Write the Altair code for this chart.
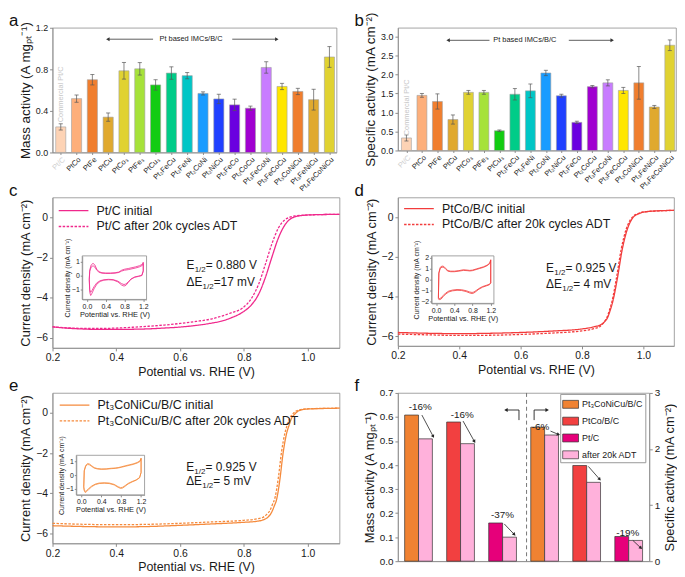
import altair as alt
import pandas as pd

FONT = "Liberation Sans"
AX = "#8c8c8c"
TXT = "#1a1a1a"

# ---------------- panels a & b data ----------------
catalysts = ["Pt/C", "PtCo", "PtFe", "PtCu", "PtCo₃", "PtFe₃", "PtCu₃",
             "Pt₂FeCu", "Pt₂FeNi", "Pt₂CoNi", "Pt₂NiCu", "Pt₂FeCo", "Pt₂CoCu",
             "Pt₃FeCoNi", "Pt₃FeCoCu", "Pt₃CoNiCu", "Pt₃FeNiCu", "Pt₄FeCoNiCu"]
bar_colors = ["#fdd3b5", "#fdaf7b", "#f07e2e", "#e0a92e", "#e0d232", "#a6e23a",
              "#12cc12", "#00cc88", "#00c6c6", "#1a9cff", "#2040ff", "#6a00e0",
              "#a000d0", "#c87cff", "#ffe600", "#f07e2e", "#e0a92e", "#e0d232"]
mass_act = [0.246, 0.518, 0.700, 0.340, 0.786, 0.805, 0.650, 0.764, 0.739,
            0.568, 0.515, 0.458, 0.426, 0.818, 0.635, 0.587, 0.508, 0.919]
mass_err = [0.03, 0.035, 0.05, 0.04, 0.08, 0.06, 0.05, 0.06, 0.03,
            0.015, 0.045, 0.055, 0.02, 0.055, 0.03, 0.03, 0.10, 0.10]
spec_act = [0.33, 1.45, 1.29, 0.815, 1.53, 1.53, 0.52, 1.48, 1.57,
            2.04, 1.44, 0.74, 1.68, 1.78, 1.58, 1.78, 1.145, 2.77]
spec_err = [0.08, 0.05, 0.20, 0.12, 0.05, 0.05, 0.02, 0.15, 0.18,
            0.07, 0.04, 0.03, 0.03, 0.08, 0.08, 0.43, 0.04, 0.14]

# ---------------- LSV curves (c, d, e) ----------------
c_init_x = [0.2, 0.25, 0.3, 0.35, 0.4, 0.45, 0.5, 0.55, 0.6, 0.65, 0.7, 0.731, 0.76, 0.794,
            0.825, 0.846, 0.867, 0.887, 0.908, 0.929, 0.95, 0.981, 1.02, 1.1]
c_init_y = [-5.45, -5.52, -5.56, -5.58, -5.58, -5.57, -5.55, -5.51, -5.46, -5.38, -5.26, -5.16,
            -5.0, -4.74, -4.33, -3.83, -3.01, -2.02, -1.03, -0.36, -0.03, 0.1, 0.14, 0.16]
c_after_x = [0.2, 0.25, 0.3, 0.35, 0.4, 0.45, 0.5, 0.55, 0.6, 0.65, 0.7, 0.731, 0.76, 0.794,
             0.825, 0.846, 0.867, 0.887, 0.908, 0.929, 0.96, 1.0, 1.1]
c_after_y = [-5.45, -5.5, -5.53, -5.53, -5.51, -5.47, -5.42, -5.36, -5.28, -5.18, -5.05, -4.91,
             -4.75, -4.53, -4.0, -3.34, -2.35, -1.35, -0.53, -0.11, 0.08, 0.13, 0.16]

d_init_x = [0.2, 0.3, 0.4, 0.5, 0.6, 0.7, 0.8, 0.84, 0.862, 0.875, 0.884, 0.892, 0.9, 0.915,
            0.931, 0.947, 0.957, 0.968, 0.985, 1.0, 1.04, 1.1]
d_init_y = [-5.82, -5.86, -5.88, -5.86, -5.82, -5.75, -5.64, -5.53, -5.42, -5.25, -5.05, -4.7,
            -4.28, -3.12, -1.64, -0.64, -0.25, 0.02, 0.18, 0.26, 0.32, 0.35]
d_after_x = [0.2, 0.3, 0.4, 0.5, 0.6, 0.7, 0.8, 0.84, 0.86, 0.872, 0.881, 0.889, 0.897, 0.912,
             0.928, 0.944, 0.955, 0.966, 0.985, 1.0, 1.1]
d_after_y = [-5.9, -5.94, -5.97, -5.96, -5.92, -5.85, -5.74, -5.62, -5.5, -5.3, -5.08, -4.72,
             -4.3, -3.1, -1.6, -0.6, -0.2, 0.04, 0.2, 0.27, 0.35]

e_init_x = [0.2, 0.3, 0.4, 0.5, 0.6, 0.7, 0.8, 0.84, 0.86, 0.875, 0.887, 0.895, 0.903, 0.913,
            0.923, 0.934, 0.942, 0.949, 0.96, 0.975, 1.0, 1.016, 1.1]
e_init_y = [-5.62, -5.66, -5.68, -5.66, -5.6, -5.53, -5.45, -5.4, -5.33, -5.2, -4.95, -4.65,
            -4.29, -3.31, -2.0, -1.02, -0.6, -0.28, -0.05, 0.13, 0.2, 0.21, 0.24]
e_after_x = [0.2, 0.3, 0.4, 0.5, 0.6, 0.7, 0.8, 0.84, 0.86, 0.87, 0.882, 0.89, 0.898, 0.908,
             0.918, 0.929, 0.937, 0.944, 0.955, 0.97, 1.0, 1.1]
e_after_y = [-5.5, -5.55, -5.57, -5.55, -5.5, -5.43, -5.35, -5.28, -5.2, -5.08, -4.85, -4.55,
             -4.2, -3.25, -1.95, -0.98, -0.55, -0.25, -0.02, 0.14, 0.21, 0.24]

# ---------------- CV insets ----------------
cv_x = [0.05, 0.06, 0.09, 0.13, 0.17, 0.21, 0.26, 0.32, 0.40, 0.50, 0.60, 0.68, 0.74, 0.80,
        0.88, 0.96, 1.04, 1.12, 1.18, 1.20, 1.20, 1.17, 1.10, 1.02, 0.94, 0.88, 0.83, 0.79,
        0.74, 0.66, 0.56, 0.46, 0.36, 0.28, 0.21, 0.15, 0.11, 0.08, 0.06, 0.05]
cv_c1_y = [-0.3, 0.4, 0.75, 0.87, 0.75, 0.45, 0.27, 0.2, 0.18, 0.18, 0.2, 0.25, 0.38, 0.45,
           0.5, 0.56, 0.62, 0.7, 0.8, 0.95, 0.35, 0.02, -0.04, -0.1, -0.25, -0.5, -0.7, -0.75,
           -0.68, -0.45, -0.32, -0.3, -0.33, -0.42, -0.62, -0.95, -1.25, -1.42, -1.2, -0.3]
cv_c2_y = [-0.25, 0.3, 0.6, 0.7, 0.6, 0.38, 0.23, 0.17, 0.15, 0.15, 0.17, 0.22, 0.32, 0.38,
           0.42, 0.48, 0.54, 0.62, 0.72, 0.85, 0.3, 0.0, -0.06, -0.12, -0.25, -0.45, -0.6, -0.64,
           -0.58, -0.4, -0.29, -0.27, -0.3, -0.37, -0.52, -0.8, -1.05, -1.2, -1.0, -0.25]
cv_d1_y = [-1.75, 0.6, 1.1, 1.22, 1.18, 1.0, 0.8, 0.75, 0.75, 0.8, 0.88, 0.85, 0.82, 0.85,
           0.95, 1.05, 1.15, 1.3, 1.5, 1.8, -0.35, -0.5, -0.6, -0.72, -0.9, -1.1, -1.25, -1.3,
           -1.25, -1.12, -1.02, -1.0, -1.05, -1.15, -1.35, -1.6, -1.8, -1.85, -1.85, -1.75]
cv_d2_y = [-1.65, 0.55, 1.0, 1.12, 1.1, 0.93, 0.75, 0.7, 0.7, 0.75, 0.82, 0.8, 0.77, 0.8,
           0.9, 1.0, 1.1, 1.25, 1.45, 1.75, -0.3, -0.45, -0.55, -0.66, -0.84, -1.02, -1.16, -1.2,
           -1.16, -1.04, -0.95, -0.93, -0.98, -1.07, -1.25, -1.5, -1.7, -1.75, -1.75, -1.65]
cv_e1_y = [-0.9, 0.35, 0.72, 0.85, 0.8, 0.68, 0.55, 0.48, 0.45, 0.46, 0.5, 0.52, 0.55, 0.6,
           0.68, 0.75, 0.82, 0.92, 1.05, 1.25, 0.2, -0.2, -0.38, -0.5, -0.65, -0.82, -0.95, -0.98,
           -0.9, -0.72, -0.62, -0.6, -0.62, -0.7, -0.85, -1.05, -1.2, -1.28, -1.15, -0.9]
cv_e2_y = [-0.85, 0.3, 0.65, 0.78, 0.74, 0.63, 0.51, 0.45, 0.42, 0.43, 0.47, 0.49, 0.52, 0.57,
           0.64, 0.71, 0.78, 0.88, 1.0, 1.2, 0.18, -0.18, -0.35, -0.47, -0.61, -0.77, -0.89, -0.92,
           -0.85, -0.68, -0.58, -0.56, -0.58, -0.66, -0.8, -0.98, -1.12, -1.2, -1.08, -0.85]

# ---------------- panel f ----------------
f_names = ["Pt₃CoNiCu/B/C", "PtCo/B/C", "Pt/C", "after 20k ADT"]
f_colors = ["#f08232", "#f24040", "#e6007a", "#ffb1db"]
f_mass_init = [0.608, 0.579, 0.159]
f_mass_after = [0.509, 0.489, 0.100]
f_spec_init = [2.39, 1.706, 0.44]
f_spec_after = [2.25, 1.406, 0.37]
f_mass_pct = ["-16%", "-16%", "-37%"]
f_spec_pct = ["-6%", "-18%", "-19%"]


def letter_mark(ch):
    return alt.Chart(pd.DataFrame({"t": [ch]})).mark_text(
        align="left", baseline="alphabetic", fontSize=17, color="#111"
    ).encode(x=alt.value(-44), y=alt.value(-2), text="t:N")


# ======================= bar panels =======================
def bar_panel(vals, errs, ydom, yticks, ytitle, xdom, arr_x, arr_y, comm_y, letter, W, H):
    n = len(catalysts)
    df = pd.DataFrame({"idx": list(range(n)), "v": vals, "e": errs, "col": bar_colors})
    df["lo"] = df.v - df.e
    df["hi"] = df.v + df.e
    df["x0"] = df.idx - 0.32
    df["x1"] = df.idx + 0.32
    df["c0"] = df.idx - 0.13
    df["c1"] = df.idx + 0.13
    df["z"] = 0.0
    names_js = "[" + ",".join("'%s'" % c for c in catalysts) + "]"
    xs = alt.Scale(domain=xdom, nice=False, zero=False)
    ys = alt.Scale(domain=ydom, nice=False, zero=False)
    xax = alt.Axis(values=list(range(n)), labelExpr=names_js + "[datum.value]",
                   labelAngle=315, labelAlign="right", labelBaseline="top",
                   labelFontSize=7.5, labelPadding=1, tickSize=2, title=None,
                   labelOverlap=False, labelFlush=False,
                   labelColor=alt.condition("datum.value == 0", alt.value("#cfcfcf"), alt.value(TXT)))
    yax = alt.Axis(values=yticks, format=".1f", labelFontSize=9, title=ytitle,
                   titleFontSize=13.5, titlePadding=3, tickSize=3)

    def X(f):
        return alt.X(f, type="quantitative", scale=xs, axis=xax)

    def Y(f):
        return alt.Y(f, type="quantitative", scale=ys, axis=yax)

    base = alt.Chart(df)
    bars = base.mark_bar(stroke="#a0a0a0", strokeWidth=0.6).encode(
        x=X("x0"), x2="x1", y=Y("v"), y2="z", color=alt.Color("col:N", scale=None))
    err = base.mark_rule(color="#555", strokeWidth=0.7).encode(x=X("idx"), y=Y("lo"), y2="hi")
    cap_hi = base.mark_rule(color="#555", strokeWidth=0.7).encode(x=X("c0"), x2="c1", y=Y("hi"))
    cap_lo = base.mark_rule(color="#555", strokeWidth=0.7).encode(x=X("c0"), x2="c1", y=Y("lo"))

    arr = pd.DataFrame({"x0": [arr_x[0], arr_x[3]], "x1": [arr_x[1], arr_x[4]], "y": [arr_y, arr_y]})
    arr_r = alt.Chart(arr).mark_rule(color="#333", strokeWidth=0.8).encode(x=X("x0"), x2="x1", y=Y("y"))
    heads = pd.DataFrame({"x": [arr_x[0], arr_x[4]], "y": [arr_y, arr_y],
                          "s": ["triangle-left", "triangle-right"]})
    head_m = alt.Chart(heads).mark_point(filled=True, size=16, color="#333", opacity=1).encode(
        x=X("x"), y=Y("y"), shape=alt.Shape("s:N", scale=None))
    lab = alt.Chart(pd.DataFrame({"x": [arr_x[2]], "y": [arr_y], "t": ["Pt based IMCs/B/C"]})).mark_text(
        fontSize=7.5, color=TXT, baseline="middle").encode(x=X("x"), y=Y("y"), text="t:N")
    comm = alt.Chart(pd.DataFrame({"x": [0.03], "y": [comm_y], "t": ["Commercial Pt/C"]})).mark_text(
        angle=270, align="left", baseline="middle", fontSize=7.5, color="#c8c8c8").encode(
        x=X("x"), y=Y("y"), text="t:N")
    return alt.layer(bars, err, cap_hi, cap_lo, arr_r, head_m, lab, comm,
                     letter_mark(letter)).properties(width=W, height=H)


# ======================= LSV panels =======================
def text_run(x, y, parts):
    layers = []
    for t, dx, dy, fs in parts:
        layers.append(alt.Chart(pd.DataFrame({"x": [x], "y": [y], "t": [t]})).mark_text(
            align="left", baseline="alphabetic", fontSize=fs, dx=dx, dy=dy, color=TXT))
    return layers


def lsv_panel(curves, names, color, cv_loops, box, cv_ydom, cv_yticks,
              e_val, de_val, epos, letter, W, H, legxy):
    rows = []
    for name, (xs_, ys_) in zip(names, curves):
        for i, (x, y) in enumerate(zip(xs_, ys_)):
            rows.append({"s": name, "i": i, "x": x, "y": y})
    df = pd.DataFrame(rows)
    xs = alt.Scale(domain=[0.2, 1.1], nice=False, zero=False)
    ys = alt.Scale(domain=[-6.5, 1.0], nice=False, zero=False)
    xax = alt.Axis(values=[0.2, 0.4, 0.6, 0.8, 1.0], format=".1f", labelFontSize=10.5,
                   labelFlush=False, title="Potential vs. RHE (V)", titleFontSize=12.5,
                   titlePadding=2, tickSize=3, labelPadding=2)
    yax = alt.Axis(values=[-6, -4, -2, 0], format="d", labelFontSize=10.5,
                   title="Current density (mA cm⁻²)", titleFontSize=13, titlePadding=3, tickSize=3)

    def X(f):
        return alt.X(f, type="quantitative", scale=xs, axis=xax)

    def Y(f):
        return alt.Y(f, type="quantitative", scale=ys, axis=yax)

    # long horizontal stroke symbol: path spans 6 units, size 100 -> ~30 px long
    leg = alt.Legend(orient="none", legendX=legxy[0], legendY=legxy[1], title=None,
                     symbolType="M-3,0L3,0", symbolSize=100, symbolStrokeWidth=1.4,
                     labelFontSize=12.5, labelOffset=17, rowPadding=3, padding=0, labelLimit=400)
    lines = alt.Chart(df).mark_line(strokeWidth=1.3, interpolate="monotone").encode(
        x=X("x"), y=Y("y"),
        color=alt.Color("s:N", scale=alt.Scale(domain=names, range=[color, color]), legend=leg),
        strokeDash=alt.StrokeDash("s:N", scale=alt.Scale(domain=names, range=[[1, 0], [2.5, 1.5]]), legend=leg),
        order="i:Q")
    ex, ey1, ey2 = epos
    t_layers = []
    for lay in text_run(ex, ey1, [("E", 0, 0, 12), ("1/2", 8.3, 3, 8), (" = " + e_val, 19.5, 0, 12)]):
        t_layers.append(lay.encode(x=X("x"), y=Y("y"), text="t:N"))
    for lay in text_run(ex, ey2, [("ΔE", 0, 0, 12), ("1/2", 16.3, 3, 8), (de_val, 27.5, 0, 12)]):
        t_layers.append(lay.encode(x=X("x"), y=Y("y"), text="t:N"))
    main = alt.layer(lines, *t_layers, letter_mark(letter))

    # inset CV
    cvrows = []
    for k, ys_ in enumerate(cv_loops):
        for i, (x, y) in enumerate(zip(cv_x, ys_)):
            cvrows.append({"loop": k, "i": i, "x": x, "y": y})
    cvdf = pd.DataFrame(cvrows)
    bx0, bx1, by0, by1 = box
    ixs = alt.Scale(domain=[-0.1, 1.27], range=[bx0, bx1], nice=False, zero=False)
    iys = alt.Scale(domain=cv_ydom, range=[by1, by0], nice=False, zero=False)
    ixax = alt.Axis(orient="bottom", offset=by1 - H, values=[0, 0.4, 0.8, 1.2], format=".1f",
                    labelFontSize=7, labelPadding=1, tickSize=2, labelFlush=False,
                    title="Potential vs. RHE (V)", titleFontSize=7.5, titlePadding=1)
    iyax = alt.Axis(orient="left", offset=-bx0, values=cv_yticks, format="d", labelFontSize=7,
                    labelPadding=1, tickSize=2, title="Current density (mA cm⁻²)",
                    titleFontSize=7, titlePadding=1)
    cvl = alt.Chart(cvdf).mark_line(strokeWidth=0.8, color=color).encode(
        x=alt.X("x:Q", scale=ixs, axis=ixax), y=alt.Y("y:Q", scale=iys, axis=iyax),
        detail="loop:N", order="i:Q")
    boxdf = pd.DataFrame({"x0": [-0.1], "x1": [1.27], "y0": [cv_ydom[0]], "y1": [cv_ydom[1]]})
    frame = alt.Chart(boxdf).mark_rect(fill="transparent", stroke=AX, strokeWidth=0.8).encode(
        x=alt.X("x0:Q", scale=ixs, axis=ixax), x2="x1",
        y=alt.Y("y0:Q", scale=iys, axis=iyax), y2="y1")
    inset = alt.layer(frame, cvl)
    return alt.layer(main, inset).resolve_scale(x="independent", y="independent").properties(
        width=W, height=H)


# ======================= panel f =======================
def f_panel(W, H):
    xs = alt.Scale(domain=[-0.49, 5.49], nice=False, zero=False)
    xax = alt.Axis(labels=False, ticks=False, title=None, grid=False)

    def X(f):
        return alt.X(f, type="quantitative", scale=xs, axis=xax)

    ysl = alt.Scale(domain=[0, 0.7], nice=False)
    ysr = alt.Scale(domain=[0, 3], nice=False)
    yaxl = alt.Axis(values=[0, 0.1, 0.2, 0.3, 0.4, 0.5, 0.6, 0.7], format=".1f", labelFontSize=10,
                    title="Mass activity (A mgₚₜ⁻¹)", titleFontSize=13, titlePadding=3, tickSize=3)
    yaxr = alt.Axis(orient="right", values=[0, 1, 2, 3], format="d", labelFontSize=10,
                    title="Specific activity (mA cm⁻²)", titleFontSize=13, titlePadding=4,
                    titleAngle=270, titleBaseline="top", tickSize=3)

    def YL(f):
        return alt.Y(f, type="quantitative", scale=ysl, axis=yaxl)

    def YR(f):
        return alt.Y(f, type="quantitative", scale=ysr, axis=yaxr)

    def bars_df(init, after, off):
        rows = []
        for i in range(3):
            rows.append({"x0": i + off - 0.33, "x1": i + off, "v": init[i], "s": f_names[i]})
            rows.append({"x0": i + off, "x1": i + off + 0.33, "v": after[i], "s": f_names[3]})
        d = pd.DataFrame(rows)
        d["z"] = 0.0
        return d

    leg = alt.Legend(orient="none", legendX=164, legendY=1, title=None,
                     symbolType="M-1,-0.5L1,-0.5L1,0.5L-1,0.5Z", symbolSize=256,
                     symbolStrokeColor="#333", symbolStrokeWidth=0.7, labelFontSize=9,
                     labelOffset=3, rowPadding=3, padding=2, strokeColor="#999",
                     fillColor="white", labelLimit=200)
    col = alt.Color("s:N", scale=alt.Scale(domain=f_names, range=f_colors), legend=leg)

    lb = alt.Chart(bars_df(f_mass_init, f_mass_after, 0)).mark_bar(stroke="#333", strokeWidth=0.7).encode(
        x=X("x0"), x2="x1", y=YL("v"), y2="z", color=col)
    rb = alt.Chart(bars_df(f_spec_init, f_spec_after, 3)).mark_bar(stroke="#333", strokeWidth=0.7).encode(
        x=X("x0"), x2="x1", y=YR("v"), y2="z", color=col)

    lt = alt.Chart(pd.DataFrame({"x": [0.04, 1.04, 2.0], "y": [0.64, 0.61, 0.19], "t": f_mass_pct})).mark_text(
        fontSize=10, color=TXT, baseline="middle").encode(x=X("x"), y=YL("y"), text="t:N")
    rt = alt.Chart(pd.DataFrame({"x": [2.9, 3.93, 4.98], "y": [2.40, 1.88, 0.50], "t": f_spec_pct})).mark_text(
        fontSize=10, color=TXT, baseline="middle").encode(x=X("x"), y=YR("y"), text="t:N")

    la = pd.DataFrame({"x0": [0.08, 1.06, 2.04], "y0": [0.608, 0.583, 0.155],
                       "x1": [0.35, 1.33, 2.28], "y1": [0.519, 0.498, 0.111], "ang": [152, 150, 137]})
    ra = pd.DataFrame({"x0": [3.14, 4.04, 5.1], "y0": [2.32, 1.69, 0.37],
                       "x1": [3.33, 4.31, 5.29], "y1": [2.26, 1.46, 0.235], "ang": [112, 139, 133]})
    la_r = alt.Chart(la).mark_rule(color="#222", strokeWidth=0.8).encode(x=X("x0"), x2="x1", y=YL("y0"), y2="y1")
    la_h = alt.Chart(la).mark_point(shape="triangle-up", filled=True, size=14, color="#222", opacity=1).encode(
        x=X("x1"), y=YL("y1"), angle=alt.Angle("ang:Q", scale=None))
    ra_r = alt.Chart(ra).mark_rule(color="#222", strokeWidth=0.8).encode(x=X("x0"), x2="x1", y=YR("y0"), y2="y1")
    ra_h = alt.Chart(ra).mark_point(shape="triangle-up", filled=True, size=14, color="#222", opacity=1).encode(
        x=X("x1"), y=YR("y1"), angle=alt.Angle("ang:Q", scale=None))

    ind = pd.DataFrame({"x0": [2.08, 2.39, 2.75, 2.75], "x1": [2.39, 2.39, 2.75, 3.06],
                        "y0": [0.629, 0.629, 0.587, 0.629], "y1": [0.629, 0.587, 0.629, 0.629]})
    ind_r = alt.Chart(ind).mark_rule(color="#222", strokeWidth=0.9).encode(x=X("x0"), x2="x1", y=YL("y0"), y2="y1")
    ind_h = alt.Chart(pd.DataFrame({"x": [2.08, 3.06], "y": [0.629, 0.629],
                                    "s": ["triangle-left", "triangle-right"]})).mark_point(
        filled=True, size=16, color="#222", opacity=1).encode(
        x=X("x"), y=YL("y"), shape=alt.Shape("s:N", scale=None))
    dash = alt.Chart(pd.DataFrame({"x": [2.57]})).mark_rule(color="#777", strokeDash=[4, 3], strokeWidth=1).encode(
        x=X("x"))

    left = alt.layer(dash, lb, lt, la_r, la_h, ind_r, ind_h, letter_mark("f"))
    right = alt.layer(rb, rt, ra_r, ra_h)
    return alt.layer(left, right).resolve_scale(y="independent").properties(width=W, height=H)


pa = bar_panel(mass_act, mass_err, [0, 1.2], [0, 0.4, 0.8, 1.2], "Mass activity (A mgₚₜ⁻¹)",
               [-0.52, 17.45], [2.98, 5.84, 8.24, 10.85, 13.67], 1.09, 0.29, "a", 287, 126)
pb = bar_panel(spec_act, spec_err, [0, 3.23], [0, 0.5, 1.0, 1.5, 2.0, 2.5, 3.0],
               "Specific activity (mA cm⁻²)", [-0.55, 17.4], [2.69, 5.36, 7.64, 10.48, 13.28],
               2.9, 0.4, "b", 281, 124)
pc = lsv_panel([(c_init_x, c_init_y), (c_after_x, c_after_y)],
               ["Pt/C initial", "Pt/C after 20k cycles ADT"], "#f0288c",
               [cv_c1_y, cv_c2_y], (30, 95, 59, 103), [-1.7, 1.4], [-1, 0, 1],
               "0.880 V", " =17 mV", (0.62, -2.59, -3.39), "c", 290, 152, (15, 7))
pd_ = lsv_panel([(d_init_x, d_init_y), (d_after_x, d_after_y)],
                ["PtCo/B/C initial", "PtCo/B/C after 20k cycles ADT"], "#f23c3c",
                [cv_d1_y, cv_d2_y], (34, 97, 59, 107), [-2.2, 2.15], [-2, -1, 0, 1, 2],
                "0.925 V", " = 4 mV", (0.683, -2.76, -3.57), "d", 279, 150, (15, 5))
pe = lsv_panel([(e_init_x, e_init_y), (e_after_x, e_after_y)],
               ["Pt₃CoNiCu/B/C initial", "Pt₃CoNiCu/B/C after 20k cycles ADT"], "#f58a3c",
               [cv_e1_y, cv_e2_y], (24, 93, 63, 103), [-1.45, 1.45], [-1, 0, 1],
               "0.925 V", " = 5 mV", (0.619, -2.87, -3.59), "e", 290, 152, (16, 6))
pf = f_panel(254, 170)

chart = alt.concat(pa, pb, pc, pd_, pe, pf, columns=2,
                   spacing={"row": 45.5, "column": 59}, bounds="flush", align="each").resolve_scale(
    color="independent", strokeDash="independent"
).resolve_legend(
    color="independent", strokeDash="independent"
).properties(
    padding=0
).configure(font=FONT).configure_view(stroke=AX, strokeWidth=0.8).configure_axis(
    domainColor=AX, tickColor=AX, labelColor=TXT, titleColor=TXT, grid=False,
    labelFont=FONT, titleFont=FONT, titleFontWeight="normal", domainWidth=0.8
).configure_legend(labelFont=FONT, labelColor=TXT)

chart.save("out.html", embed_options={"renderer": "svg", "actions": False})
